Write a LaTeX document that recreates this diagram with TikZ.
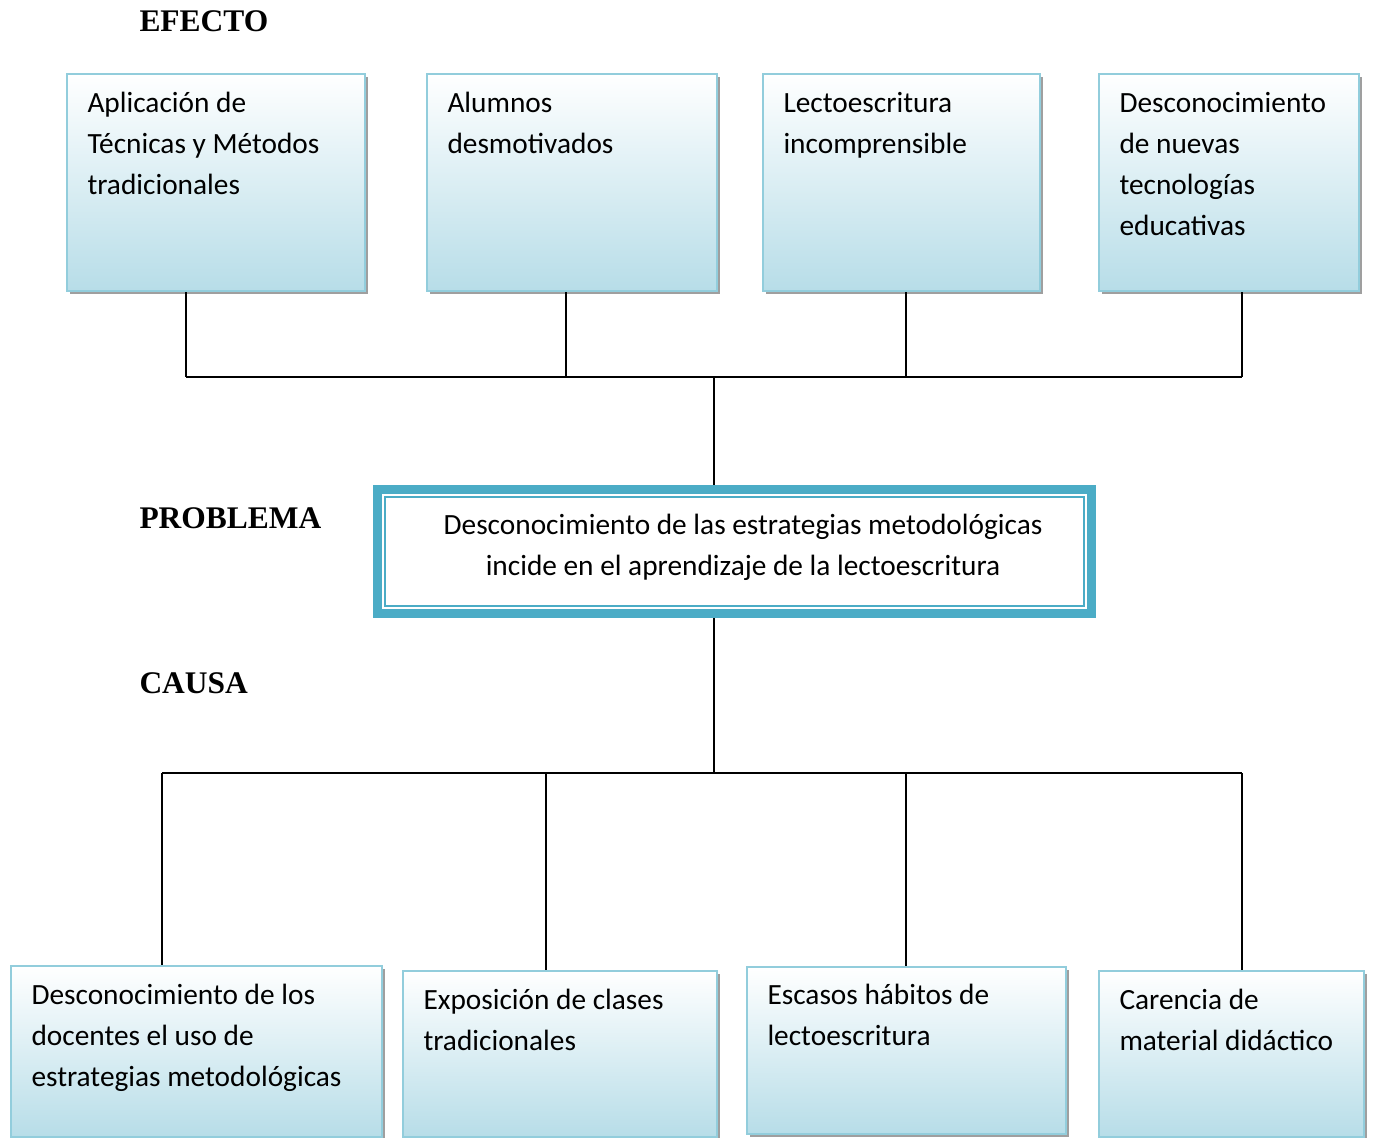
\documentclass[tikz,border=0pt]{standalone}
\usepackage{fontspec}
\setmainfont{Carlito}
\newfontfamily\headfont{Liberation Serif}
\usetikzlibrary{shadows}

\tikzset{every picture/.style={line width=0.75pt}}
\tikzset{
	efbox/.style={draw={rgb, 255:red, 146; green, 205; blue, 220 }, line width=1.5pt, anchor=north west, inner sep=0pt,
		top color=white, middle color={rgb, 255:red, 222; green, 239; blue, 244 }, bottom color={rgb, 255:red, 183; green, 221; blue, 232 },
		drop shadow={shadow xshift=2.2pt, shadow yshift=-2.2pt, fill=gray!75, opacity=1}},
	boxtext/.style={anchor=north west, inner sep=0pt, align=left, font=\fontsize{22}{30.75}\selectfont},
	heading/.style={anchor=base west, inner sep=0pt, font=\headfont\bfseries\fontsize{23.6}{28}\selectfont},
	conn/.style={line width=1.5pt}
}

\begin{document}
\begin{tikzpicture}[x=0.75pt,y=0.75pt,yscale=-1,xscale=1]
		\useasboundingbox (0,0) rectangle (1374,1138); %same size as the reference

		%efectos
		\node (e1) [efbox, minimum width=223.5pt, minimum height=162.75pt] at (66,73) {};
		\node (e2) [efbox, minimum width=217.5pt, minimum height=162.75pt] at (426,73) {};
		\node (e3) [efbox, minimum width=207.75pt, minimum height=162.75pt] at (762,73) {};
		\node (e4) [efbox, minimum width=195pt, minimum height=162.75pt] at (1098,73) {};

		%problema
		\node (prob) [draw={rgb, 255:red, 75; green, 172; blue, 198 }, line width=6.75pt, fill=white, anchor=north west,
			minimum width=535.5pt, minimum height=93pt] at (373,485) {};
		\draw [color={rgb, 255:red, 75; green, 172; blue, 198 }, line width=1.5pt] ([xshift=9pt,yshift=-9pt]prob.south west) rectangle ([xshift=-9pt,yshift=9pt]prob.north east);

		%causas
		\node (c1) [efbox, minimum width=278.25pt, minimum height=128.25pt] at (10,965) {};
		\node (c2) [efbox, minimum width=235.5pt, minimum height=124.5pt] at (402,970) {};
		\node (c3) [efbox, minimum width=239.25pt, minimum height=125.25pt] at (746,966) {};
		\node (c4) [efbox, minimum width=198.75pt, minimum height=124.5pt] at (1098,970) {};

		%joints
		\coordinate (je1) at (186,377);
		\coordinate (je2) at (566,377);
		\coordinate (je3) at (906,377);
		\coordinate (je4) at (1242,377);
		\coordinate (jt) at (714,377);
		\coordinate (jb) at (714,773);
		\coordinate (jc1) at (162,773);
		\coordinate (jc2) at (546,773);
		\coordinate (jc3) at (906,773);
		\coordinate (jc4) at (1242,773);

		\draw [conn] (je1 |- e1.south) -- (je1) ;
		\draw [conn] (je2 |- e2.south) -- (je2) ;
		\draw [conn] (je3 |- e3.south) -- (je3) ;
		\draw [conn] (je4 |- e4.south) -- (je4) ;
		\draw [conn] (je1) -- (je4) ;
		\draw [conn] (jt) -- (jt |- prob.north) ;
		\draw [conn] (jb |- prob.south) -- (jb) ;
		\draw [conn] (jc1) -- (jc4) ;
		\draw [conn] (jc1) -- (jc1 |- c1.north) ;
		\draw [conn] (jc2) -- (jc2 |- c2.north) ;
		\draw [conn] (jc3) -- (jc3 |- c3.north) ;
		\draw [conn] (jc4) -- (jc4 |- c4.north) ;



		\node (h1) [heading] at (139,32) {EFECTO};
		\node (h2) [heading] at (139,528) {PROBLEMA};
		\node (h3) [heading] at (139,693) {CAUSA};
		\node (tp) [align=center, inner sep=0pt, font=\fontsize{22}{30.75}\selectfont] at (743,547) {Desconocimiento de las estrategias metodológicas\\incide en el aprendizaje de la lectoescritura};
		\node (t1) [boxtext] at (87,83) {\strut Aplicación de\\Técnicas y Métodos\\tradicionales};
		\node (t2) [boxtext] at (447,83) {\strut Alumnos\\desmotivados};
		\node (t3) [boxtext] at (783,83) {\strut Lectoescritura\\incomprensible};
		\node (t4) [boxtext] at (1119,83) {\strut Desconocimiento\\de nuevas\\tecnologías\\educativas};
		\node (t5) [boxtext] at (31,975) {\strut Desconocimiento de los\\docentes el uso de\\estrategias metodológicas};
		\node (t6) [boxtext] at (423,980) {\strut Exposición de clases\\tradicionales};
		\node (t7) [boxtext] at (767,975) {\strut Escasos hábitos de\\lectoescritura};
		\node (t8) [boxtext] at (1119,980) {\strut Carencia de\\material didáctico};


		\end{tikzpicture}
\end{document}
